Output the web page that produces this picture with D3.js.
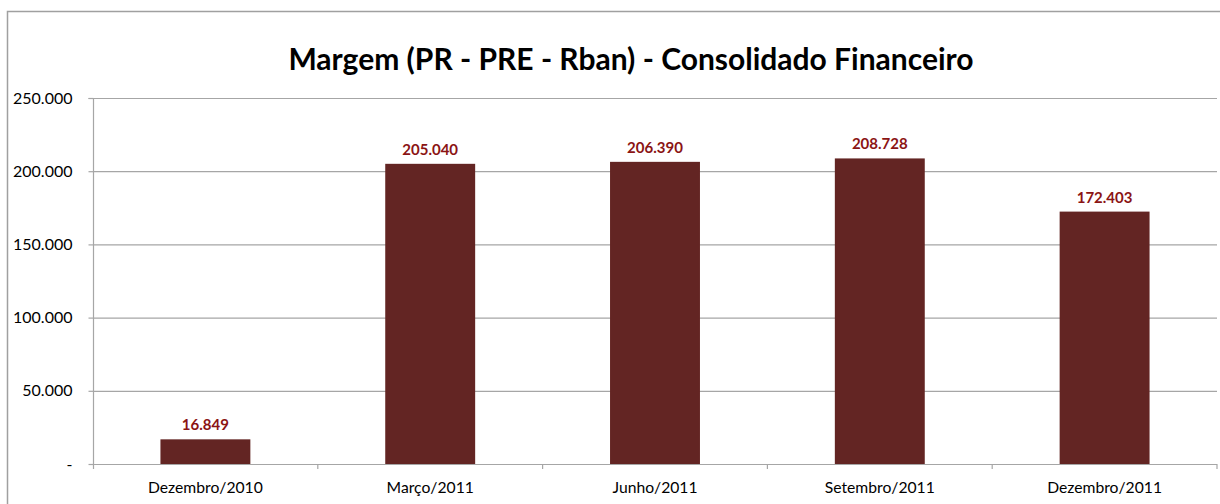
<!DOCTYPE html>
<html><head><meta charset="utf-8">
<script src="https://cdn.jsdelivr.net/npm/d3@7"></script>
<style>body{margin:0;background:#fff}svg{display:block}</style>
</head><body>
<svg id="c" width="1220" height="504"></svg>
<script>
const categories = ["Dezembro/2010","Março/2011","Junho/2011","Setembro/2011","Dezembro/2011"];
const values = [16849, 205040, 206390, 208728, 172403];
const yTicks = [0, 50000, 100000, 150000, 200000, 250000];
const title = "Margem (PR - PRE - Rban) - Consolidado Financeiro";

(function(){
const svg = d3.select("#c");
const font = "Lato, 'Open Sans', sans-serif";
const fmt = v => v === 0 ? "-" : d3.format(",")(v).replace(/,/g, ".");

// outer frame
svg.append("path").attr("d","M7.5,504 V11.5 H1220").attr("fill","none").attr("stroke","#a0a0a0").attr("stroke-width",1.5);

const pl = 93, pr = 1217, pt = 98, pb = 464;
const x = d3.scaleBand().domain(categories).range([pl, pr]).paddingInner(0.6).paddingOuter(0.3);
const xb = d3.scaleBand().domain(categories).range([pl, pr]);
const y = d3.scaleLinear().domain([0, 250000]).range([pb, pt]);

// gridlines
svg.append("g").selectAll("line").data(yTicks.filter(d=>d>0)).join("line")
  .attr("x1", pl).attr("x2", pr).attr("y1", d=>y(d)+0.5).attr("y2", d=>y(d)+0.5)
  .attr("stroke","#a6a6a6").attr("stroke-width",1.2);

// bars
svg.append("g").selectAll("rect").data(values).join("rect")
  .attr("x",(d,i)=>x(categories[i])).attr("width",x.bandwidth())
  .attr("y",d=>y(d)).attr("height",d=>pb-y(d)).attr("fill","#632523");

// y axis
const ya = d3.axisLeft(y).tickValues(yTicks).tickSize(5).tickPadding(16).tickFormat(fmt);
const yg = svg.append("g").attr("transform",`translate(${pl+0.5},0)`).call(ya);
yg.select(".domain").attr("stroke","#a6a6a6").attr("stroke-width",1.2).attr("d",`M-5,${pt+0.5}H0V${pb+5}`);
yg.selectAll(".tick line").attr("stroke","#a6a6a6").attr("stroke-width",1.2);
yg.selectAll("text").attr("font-family",font).attr("font-size",16).attr("fill","#000");

// x axis
const xa = d3.axisBottom(xb).tickSize(0).tickPadding(17);
const xg = svg.append("g").attr("transform",`translate(0,${pb+0.5})`).call(xa);
xg.select(".domain").attr("stroke","#a6a6a6").attr("stroke-width",1.2).attr("d",`M${pl},0H${pr}`);
xg.selectAll("text").attr("font-family",font).attr("font-size",15.7).attr("fill","#000");
svg.append("g").selectAll("line").data(categories.slice(1).concat(["__end"])).join("line")
  .attr("x1",d=> d==="__end" ? pr : xb(d)).attr("x2",d=> d==="__end" ? pr : xb(d))
  .attr("y1",pb).attr("y2",pb+5).attr("stroke","#a6a6a6").attr("stroke-width",1.2);

// value labels
svg.append("g").selectAll("text").data(values).join("text")
  .attr("x",(d,i)=>x(categories[i])+x.bandwidth()/2).attr("y",d=>y(d)-9)
  .attr("text-anchor","middle").attr("font-family",font).attr("font-weight","bold")
  .attr("font-size",15).attr("fill","#8b1414").text(fmt);

// title
svg.append("text").attr("x",631).attr("y",70).attr("text-anchor","middle")
  .attr("font-family",font).attr("font-weight","bold").attr("font-size",30).attr("fill","#000")
  .text(title);
})();
</script>
</body></html>
